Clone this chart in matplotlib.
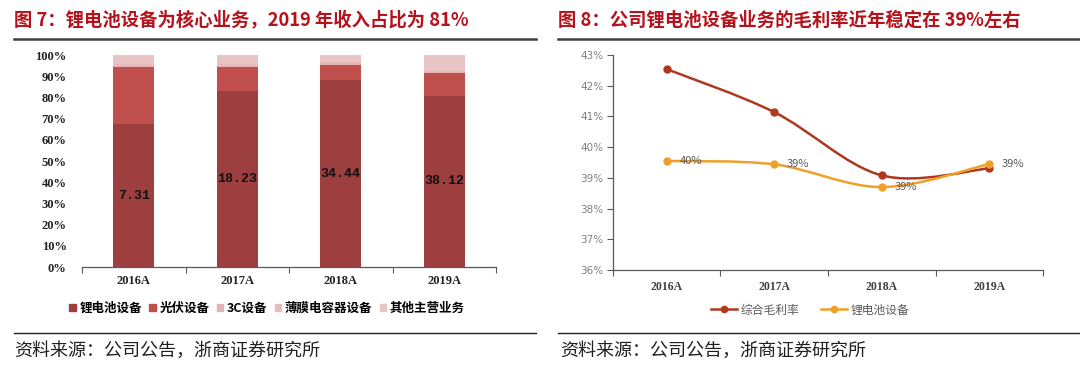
import numpy as np
import matplotlib.pyplot as plt
from matplotlib.path import Path
from matplotlib.patches import PathPatch
from matplotlib.lines import Line2D
from matplotlib.patches import Patch

plt.rcParams['font.family'] = ['Noto Sans CJK SC', 'DejaVu Sans']

# ---- data ----
years = ['2016A', '2017A', '2018A', '2019A']
seg_names = ['锂电池设备', '光伏设备', '3C设备', '薄膜电容器设备', '其他主营业务']
lithium = [67.3, 83.2, 88.0, 80.8]
pv = [26.9, 11.3, 7.3, 10.6]
c3 = [0.5, 0.5, 0.7, 0.8]
film = [1.0, 0.8, 0.8, 0.8]
other = [4.3, 4.2, 3.2, 7.0]
lithium_rev = ['7.31', '18.23', '34.44', '38.12']

gross_margin = [42.54, 41.14, 39.08, 39.31]
lithium_margin = [39.55, 39.44, 38.70, 39.45]
lithium_margin_lbl = ['40%', '39%', '39%', '39%']

seg_colors = ['#9E3F3F', '#C0504D', '#E3B2B2', '#E6BCBC', '#E8C4C4']
red = '#B0381E'
orange = '#F0A02A'
title_red = '#B5121B'

fig = plt.figure(figsize=(10.8, 3.68), dpi=100)

# titles, rules and sources
fig.text(14 / 1080, 1 - 20 / 368, '图 7：锂电池设备为核心业务，2019 年收入占比为 81%',
         fontsize=13.2, fontweight='bold', color=title_red, va='center', ha='left')
fig.text(558 / 1080, 1 - 20 / 368, '图 8：公司锂电池设备业务的毛利率近年稳定在 39%左右',
         fontsize=13.2, fontweight='bold', color=title_red, va='center', ha='left')
for x0, x1 in [(14, 536), (558, 1080)]:
    fig.add_artist(Line2D([x0 / 1080, x1 / 1080], [1 - 38.5 / 368] * 2, color='#404040', lw=1.8))
    fig.add_artist(Line2D([x0 / 1080, x1 / 1080], [1 - 333 / 368] * 2, color='#202020', lw=1.0))
fig.text(14 / 1080, 1 - 351 / 368, '资料来源：公司公告，浙商证券研究所', fontsize=13,
         color='#202020', va='center', ha='left')
fig.text(560 / 1080, 1 - 351 / 368, '资料来源：公司公告，浙商证券研究所', fontsize=13,
         color='#202020', va='center', ha='left')

# ---- left: stacked bars ----
ax1 = fig.add_axes([82 / 1080, 1 - 267 / 368, 414 / 1080, 212 / 368])
x = np.arange(len(years))
bottom = np.zeros(len(years))
for vals, col, name in zip([lithium, pv, c3, film, other], seg_colors, seg_names):
    ax1.bar(x, vals, 0.4, bottom=bottom, color=col, label=name, zorder=2)
    bottom += np.array(vals)
for xi, v, lab in zip(x, lithium, lithium_rev):
    ax1.text(xi, v / 2, lab, ha='center', va='center', fontsize=9.5,
             fontfamily='Liberation Mono', fontweight='bold', color='#111111')
ax1.set_xlim(-0.5, 3.5)
ax1.set_ylim(0, 100)
ax1.set_yticks(range(0, 101, 10))
ax1.set_yticklabels([f'{v}%' for v in range(0, 101, 10)])
ax1.set_xticks(x)
ax1.set_xticklabels(years)
ax1.set_xticks(np.arange(-0.5, 4, 1), minor=True)
ax1.tick_params(axis='y', length=0, pad=11, labelsize=9)
ax1.tick_params(axis='x', which='major', length=0, pad=6, labelsize=9)
ax1.tick_params(axis='x', which='minor', length=4, color='#595959', width=0.8)
for lab in ax1.get_yticklabels() + ax1.get_xticklabels():
    lab.set_fontfamily('Liberation Serif')
    lab.set_fontweight('bold')
    lab.set_color('#222222')
for s in ['top', 'right', 'left']:
    ax1.spines[s].set_visible(False)
ax1.spines['bottom'].set_color('#595959')
ax1.spines['bottom'].set_linewidth(0.9)

handles = [Patch(color=c, label=n) for c, n in zip(seg_colors, seg_names)]
fig.legend(handles=handles, loc='center', bbox_to_anchor=(267 / 1080, 1 - 308 / 368),
           ncol=5, frameon=False, handlelength=0.5, handleheight=0.5,
           handletextpad=0.3, columnspacing=0.6,
           prop={'size': 9, 'weight': 'bold'})

# ---- right: smooth lines ----
ax2 = fig.add_axes([613 / 1080, 1 - 270 / 368, 430 / 1080, 215 / 368])


def smooth_path(xs, ys):
    # Catmull-Rom style bezier through the points (Excel "smoothed line")
    pts = np.column_stack([xs, ys]).astype(float)
    verts = [pts[0]]
    codes = [Path.MOVETO]
    n = len(pts)
    for i in range(n - 1):
        p0 = pts[i - 1] if i > 0 else pts[i]
        p1, p2 = pts[i], pts[i + 1]
        p3 = pts[i + 2] if i + 2 < n else pts[i + 1]
        c1 = p1 + (p2 - p0) / 6
        c2 = p2 - (p3 - p1) / 6
        verts += [c1, c2, p2]
        codes += [Path.CURVE4] * 3
    return Path(verts, codes)


for ys, col in [(gross_margin, red), (lithium_margin, orange)]:
    ax2.add_patch(PathPatch(smooth_path(x, ys), facecolor='none', edgecolor=col, lw=1.8, zorder=3))
    ax2.plot(x, ys, 'o', color=col, ms=5, zorder=4)
for xi, v, lab in zip(x, lithium_margin, lithium_margin_lbl):
    ax2.text(xi + 0.12, v, lab, ha='left', va='center', fontsize=8, color='#595959')

ax2.set_xlim(-0.5, 3.5)
ax2.set_ylim(36, 43)
ax2.set_yticks(range(36, 44))
ax2.set_yticklabels([f'{v}%' for v in range(36, 44)])
ax2.set_xticks(x)
ax2.set_xticklabels(years)
ax2.set_xticks(np.arange(-0.5, 4, 1), minor=True)
ax2.tick_params(axis='y', length=4, color='#595959', width=0.8, labelsize=7.5, labelcolor='#7F7F7F', pad=3)
ax2.tick_params(axis='x', which='major', length=0, pad=8, labelsize=8.5)
ax2.tick_params(axis='x', which='minor', length=4, color='#595959', width=0.8)
for lab in ax2.get_xticklabels():
    lab.set_fontfamily('Liberation Serif')
    lab.set_fontweight('bold')
    lab.set_color('#404040')
for lab in ax2.get_yticklabels():
    lab.set_fontfamily('Liberation Sans Narrow')
for s in ['top', 'right']:
    ax2.spines[s].set_visible(False)
for s in ['left', 'bottom']:
    ax2.spines[s].set_color('#595959')
    ax2.spines[s].set_linewidth(0.9)

lh = [Line2D([], [], color=red, lw=1.8, marker='o', ms=4.5, label='综合毛利率'),
      Line2D([], [], color=orange, lw=1.8, marker='o', ms=4.5, label='锂电池设备')]
fig.legend(handles=lh, loc='center', bbox_to_anchor=(810 / 1080, 1 - 310 / 368), ncol=2,
           frameon=False, handlelength=2.2, handletextpad=0.3, columnspacing=1.8,
           prop={'size': 8.5}, labelcolor='#595959')

fig.savefig('out.png', dpi=100)
